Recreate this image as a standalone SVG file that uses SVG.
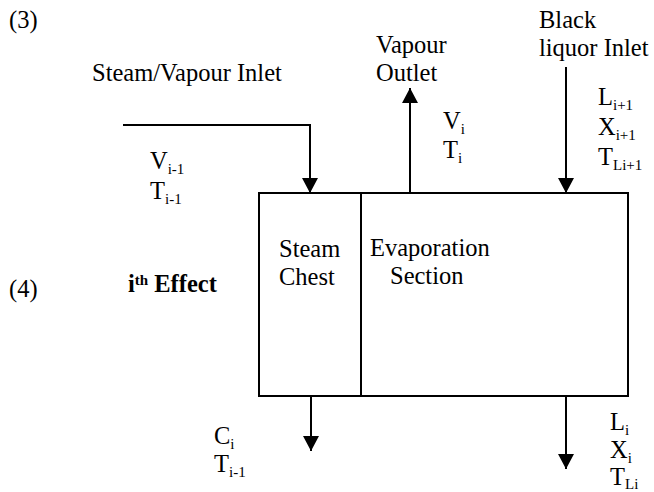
<svg xmlns="http://www.w3.org/2000/svg" width="654" height="492" viewBox="0 0 654 492">
<defs>
<style>
text{font-family:'Liberation Serif','Times New Roman',Times,'DejaVu Serif',serif;font-size:24.5px;fill:#000}
.s{font-size:15px}
.b{font-weight:bold}
.ln{stroke:#000;stroke-width:2;fill:none}
</style>
<marker id="ah" markerUnits="userSpaceOnUse" markerWidth="16" markerHeight="16" viewBox="0 0 16 16" refX="15" refY="8" orient="auto">
<path d="M0,0 L15,8 L0,16 Z" fill="#000"/>
</marker>
</defs>
<rect width="654" height="492" fill="#fff"/>
<g font-family="Liberation Serif, Times New Roman, serif">
<g id="labels">
<text x="9" y="28">(3)</text>
<text x="9" y="297">(4)</text>
<text x="92" y="81">Steam/Vapour Inlet</text>
<text x="128" y="292" class="b">i<tspan class="s" dy="-7">th</tspan><tspan dy="7"> Effect</tspan></text>
</g>
<g id="effect">
<rect class="ln" x="259" y="193" width="369" height="203"/>
<line class="ln" x1="361" y1="193" x2="361" y2="396"/>
</g>
<g id="steam-chest">
<text x="279" y="257">Steam</text>
<text x="279" y="285">Chest</text>
</g>
<g id="evaporation-section">
<text x="370" y="256">Evaporation</text>
<text x="390" y="284">Section</text>
</g>
<g id="steam-inlet">
<text x="150" y="169">V<tspan class="s" dy="5">i-1</tspan></text>
<text x="150" y="199">T<tspan class="s" dy="5">i-1</tspan></text>
</g>
<g id="vapour-outlet">
<text x="376" y="53">Vapour</text>
<text x="376" y="81">Outlet</text>
<text x="443" y="129">V<tspan class="s" dy="5">i</tspan></text>
<text x="443" y="158">T<tspan class="s" dy="5">i</tspan></text>
</g>
<g id="liquor-inlet">
<text x="539" y="28">Black</text>
<text x="539" y="56">liquor Inlet</text>
<text x="598" y="105">L<tspan class="s" dy="5">i+1</tspan></text>
<text x="598" y="135">X<tspan class="s" dy="5">i+1</tspan></text>
<text x="598" y="165">T<tspan class="s" dy="5">Li+1</tspan></text>
</g>
<g id="condensate-outlet">
<text x="214" y="444">C<tspan class="s" dy="5">i</tspan></text>
<text x="214" y="472">T<tspan class="s" dy="5">i-1</tspan></text>
</g>
<g id="liquor-outlet">
<text x="610" y="430">L<tspan class="s" dy="5">i</tspan></text>
<text x="610" y="458">X<tspan class="s" dy="5">i</tspan></text>
<text x="610" y="485">T<tspan class="s" dy="4">Li</tspan></text>
</g>
</g>
<g id="connectors">
<polyline class="ln" points="123,125 310,125 310,193" marker-end="url(#ah)"/>
<line class="ln" x1="410" y1="193" x2="410" y2="88" marker-end="url(#ah)"/>
<line class="ln" x1="566" y1="67" x2="566" y2="193" marker-end="url(#ah)"/>
<line class="ln" x1="311" y1="396" x2="311" y2="451" marker-end="url(#ah)"/>
<line class="ln" x1="566" y1="396" x2="566" y2="469" marker-end="url(#ah)"/>
</g>
</svg>
